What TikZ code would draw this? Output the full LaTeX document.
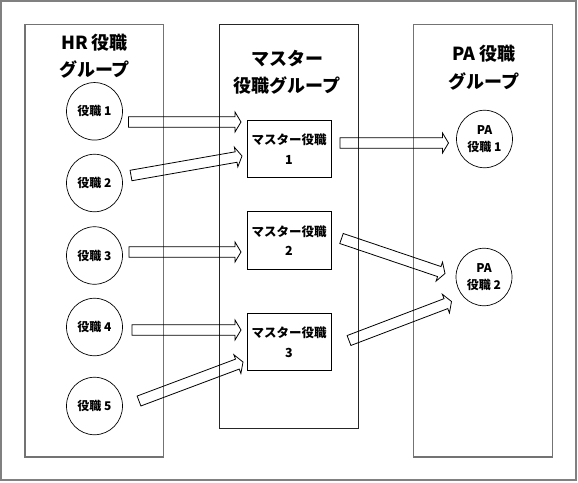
\documentclass[tikz,border=0pt]{standalone}
\usepackage{fontspec}
\setmainfont{Noto Sans CJK JP}
\usetikzlibrary{calc,shapes.geometric}
\newcommand{\blkarrow}[2]{%
  \coordinate (ah) at ($(#2)!6pt!(#1)$);
  \draw[blockarr] ($(#1)!5.3pt!90:(#2)$) -- ($(ah)!5.3pt!90:(#2)$) -- ($(ah)!10pt!90:(#2)$) -- (#2)
    -- ($(ah)!10pt!-90:(#2)$) -- ($(ah)!5.3pt!-90:(#2)$) -- ($(#1)!5.3pt!-90:(#2)$) -- cycle;}
\tikzset{
  frame/.style={draw=black!50, line width=1.8pt},
  grp/.style={draw=black!55, line width=1.2pt},
  grpm/.style={draw=black!85, line width=1.1pt},
  role/.style={ellipse, draw, line width=0.7pt, minimum width=56pt, minimum height=57.5pt,
    inner sep=0pt, align=center, font=\fontsize{12}{17}\selectfont\bfseries},
  mbox/.style={rectangle, draw, line width=0.9pt, minimum width=84pt, minimum height=57.5pt,
    inner sep=0pt, align=center, font=\fontsize{12.5}{19.5}\selectfont\bfseries},
  ttl/.style={align=center, inner sep=0pt, font=\fontsize{18}{27.5}\selectfont\bfseries},
  blockarr/.style={draw, line width=0.8pt, line join=miter}
}
\begin{document}
\begin{tikzpicture}[x=1pt,y=-1pt]
\useasboundingbox (0,0) rectangle (578,482);
% frames
\draw[frame] (1.2,1.2) rectangle (576.3,480.3);
\draw[grp] (25,24.5) rectangle (163.5,457);
\draw[grpm] (219.5,24.5) rectangle (358.3,428.5);
\draw[grp] (413.5,24.5) rectangle (552.5,457);
% titles
\node[ttl] (hrt) at (94.5,56.3) {HR 役職\\グループ};
\node[ttl] (mst) at (287,72) {マスター\\役職グループ};
\node[ttl] (pat) at (484,67.5) {PA 役職\\グループ};
% HR roles
\node[role] (r1) at (94.5,111.3) {役職 1};
\node[role] (r2) at (94.5,183) {役職 2};
\node[role] (r3) at (94.5,255.5) {役職 3};
\node[role] (r4) at (94.5,327) {役職 4};
\node[role] (r5) at (94.5,406) {役職 5};
% master roles
\node[mbox] (m1) at (289,149) {マスター役職\\1};
\node[mbox] (m2) at (289,240.5) {マスター役職\\2};
\node[mbox] (m3) at (289,342) {マスター役職\\3};
% PA roles
\node[role] (p1) at (484.5,139) {PA\\役職 1};
\node[role] (p2) at (484,277) {PA\\役職 2};
% arrow end points
\coordinate (a1s) at (128.5,122);   \coordinate (a1e) at (241,122);
\coordinate (a2s) at (131,175.5);   \coordinate (a2e) at (242,156);
\coordinate (a3s) at (129,252);     \coordinate (a3e) at (241,252);
\coordinate (a4s) at (132,330);     \coordinate (a4e) at (241,330);
\coordinate (a5s) at (139,401);     \coordinate (a5e) at (243,362);
\coordinate (b1s) at (340,143);     \coordinate (b1e) at (448.5,143);
\coordinate (b2s) at (341.5,238.5); \coordinate (b2e) at (445,273.5);
\coordinate (b3s) at (349,340.5);   \coordinate (b3e) at (451.5,301.5);
\blkarrow{a1s}{a1e}
\blkarrow{a2s}{a2e}
\blkarrow{a3s}{a3e}
\blkarrow{a4s}{a4e}
\blkarrow{a5s}{a5e}
\blkarrow{b1s}{b1e}
\blkarrow{b2s}{b2e}
\blkarrow{b3s}{b3e}
\end{tikzpicture}
\end{document}
